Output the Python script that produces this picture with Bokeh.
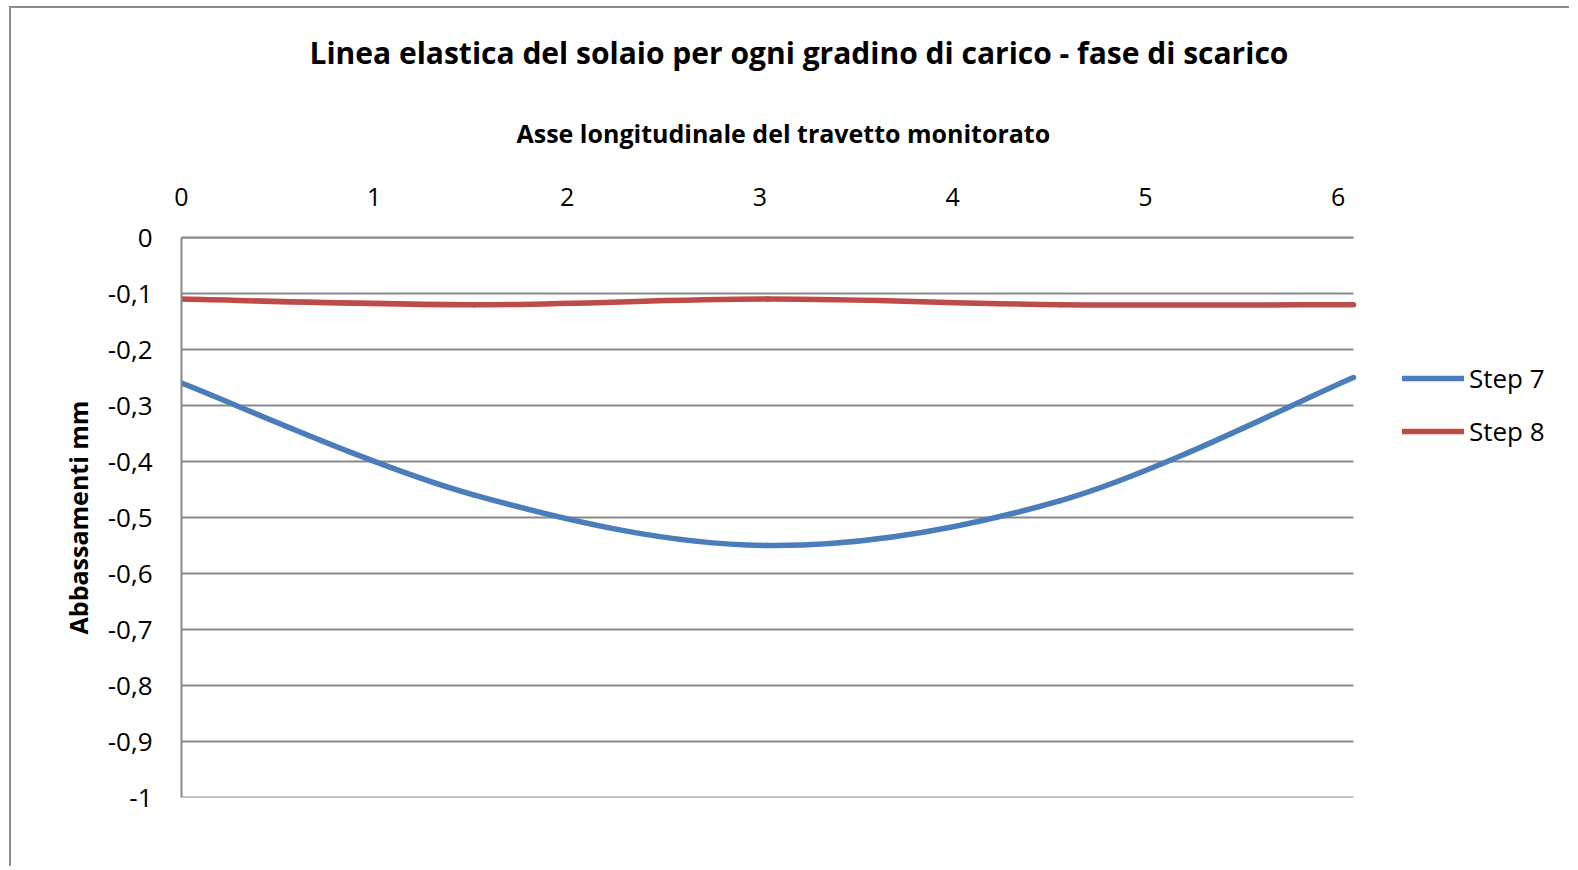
from bokeh.plotting import figure
from bokeh.models import (Range1d, FixedTicker, CustomJSTickFormatter, Legend, LegendItem, Title)
from bokeh.embed import file_html
from bokeh.resources import INLINE

# ---- data ----
x_pos = [0.0, 1.52, 3.04, 4.56, 6.08]
step7 = [-0.26, -0.46, -0.55, -0.47, -0.25]
step8 = [-0.11, -0.12, -0.11, -0.12, -0.12]
series_names = ["Step 7", "Step 8"]
series_colors = ["#4a7ebb", "#be4b48"]
x_ticks = [0, 1, 2, 3, 4, 5, 6]
y_ticks = [0, -0.1, -0.2, -0.3, -0.4, -0.5, -0.6, -0.7, -0.8, -0.9, -1]

title_text = "Linea elastica del solaio per ogni gradino di carico - fase di scarico"
x_title = "Asse longitudinale del travetto monitorato"
y_title = "Abbassamenti mm"

FONT = "Open Sans"
GRID = "#878787"

# layout (pixels)
W, H = 1560, 860
MB_LEFT, MB_RIGHT, MB_TOP, MB_BOTTOM = 170, 8, 229, 71
DATA_PX = 1172          # pixel width of the data area (x from 0 to last x)
frame_w = W - MB_LEFT - MB_RIGHT
x_end = x_pos[-1] * frame_w / DATA_PX

p = figure(width=W, height=H, output_backend="svg", toolbar_location=None,
           x_range=Range1d(0, x_end), y_range=Range1d(-1, 0),
           x_axis_location="above",
           min_border_left=MB_LEFT, min_border_right=MB_RIGHT,
           min_border_top=MB_TOP, min_border_bottom=MB_BOTTOM)
p.outline_line_color = None
p.background_fill_color = "white"
p.border_fill_color = "white"
p.styles = {"margin-left": "9px", "margin-top": "6px",
            "border-top": "2px solid #8c8c8c", "border-left": "2px solid #8c8c8c"}

# axes
xa = p.xaxis[0]
xa.ticker = FixedTicker(ticks=x_ticks)
xa.bounds = (x_pos[0], x_pos[-1])
xa.major_label_text_font = FONT
xa.major_label_text_font_size = "25px"
xa.major_label_text_color = "black"
xa.major_label_standoff = 32
xa.major_tick_out = 0
xa.major_tick_in = 0
xa.minor_tick_out = 0
xa.minor_tick_in = 0
xa.axis_line_color = GRID
xa.axis_line_width = 2

ya = p.yaxis[0]
ya.ticker = FixedTicker(ticks=y_ticks)
ya.formatter = CustomJSTickFormatter(code="""
var s = (Math.round(tick*10)/10).toString();
return s.replace('.', ',');
""")
ya.axis_label = y_title
ya.axis_label_text_font = FONT
ya.axis_label_text_font_style = "bold"
ya.axis_label_text_font_size = "25px"
ya.axis_label_text_color = "black"
ya.axis_label_standoff = 10
ya.major_label_text_font = FONT
ya.major_label_text_font_size = "26px"
ya.major_label_text_color = "black"
ya.major_label_standoff = 29
ya.major_tick_out = 0
ya.major_tick_in = 0
ya.minor_tick_out = 0
ya.minor_tick_in = 0
ya.axis_line_color = GRID
ya.axis_line_width = 2

p.xgrid.grid_line_color = None
p.ygrid.grid_line_color = None

# horizontal gridlines, limited to the data extent
p.segment(x0=[x_pos[0]] * len(y_ticks), x1=[x_pos[-1]] * len(y_ticks),
          y0=y_ticks, y1=y_ticks, line_color=GRID, line_width=2)

# smooth curves (Excel-style smoothed scatter lines) drawn as bezier segments
def bezier_segments(xs, ys):
    n = len(xs)
    seg = dict(x0=[], y0=[], x1=[], y1=[], cx0=[], cy0=[], cx1=[], cy1=[])
    for i in range(n - 1):
        im1 = max(i - 1, 0)
        ip2 = min(i + 2, n - 1)
        seg["x0"].append(xs[i]); seg["y0"].append(ys[i])
        seg["x1"].append(xs[i + 1]); seg["y1"].append(ys[i + 1])
        seg["cx0"].append(xs[i] + (xs[i + 1] - xs[im1]) / 6)
        seg["cy0"].append(ys[i] + (ys[i + 1] - ys[im1]) / 6)
        seg["cx1"].append(xs[i + 1] - (xs[ip2] - xs[i]) / 6)
        seg["cy1"].append(ys[i + 1] - (ys[ip2] - ys[i]) / 6)
    return seg

items = []
for name, ys, col in zip(series_names, [step7, step8], series_colors):
    s = bezier_segments(x_pos, ys)
    r = p.bezier(x0=s["x0"], y0=s["y0"], x1=s["x1"], y1=s["y1"],
                 cx0=s["cx0"], cy0=s["cy0"], cx1=s["cx1"], cy1=s["cy1"],
                 line_color=col, line_width=5.5, line_cap="round")
    items.append(LegendItem(label=name, renderers=[r]))

legend = Legend(items=items, location=(1221, 346), padding=0, margin=0,
                glyph_width=62, glyph_height=40, label_height=40, spacing=13,
                label_standoff=5, label_text_font=FONT, label_text_font_size="26px",
                label_text_color="black", border_line_color=None,
                background_fill_alpha=0)
p.add_layout(legend, "center")

# x axis title (as a title placed just above the top axis)
x_axis_title = Title(text=x_title, align="left", offset=335, standoff=70,
                     text_font=FONT, text_font_style="bold", text_font_size="25px",
                     text_color="black")
p.add_layout(x_axis_title, "above")

# chart title
title = Title(text=title_text, align="left", offset=128, standoff=12,
              text_font=FONT, text_font_style="bold", text_font_size="30px",
              text_color="black")
p.add_layout(title, "above")

open("out.html", "w").write(file_html(p, INLINE))
